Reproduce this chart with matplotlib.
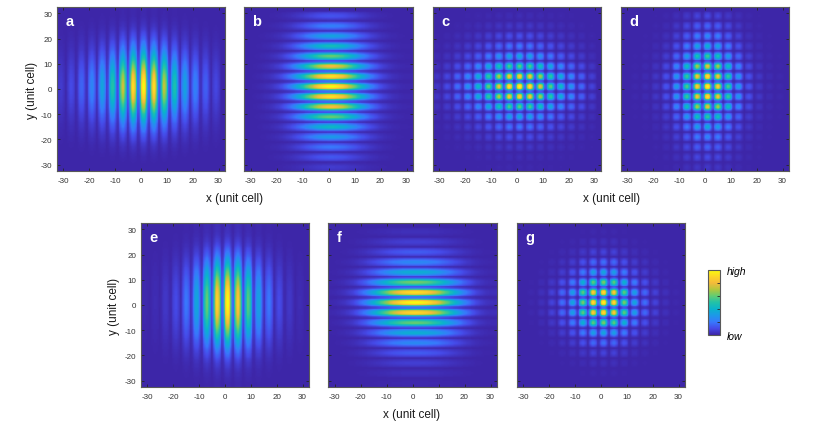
import numpy as np
import matplotlib
matplotlib.use("Agg")
import matplotlib.pyplot as plt
from matplotlib.colors import LinearSegmentedColormap, Normalize
from matplotlib.cm import ScalarMappable

plt.rcParams['font.family'] = ['Liberation Sans', 'DejaVu Sans']
plt.rcParams['axes.unicode_minus'] = False

# lattice sites (unit cell) where fringes / spots sit, same for x and y
sites = np.array([-31, -27, -23, -19, -15, -11, -7, -3, 1, 5, 9, 13, 17, 21, 25, 29])
ticks = [-30, -20, -10, 0, 10, 20, 30]

# peak intensity per site (x profile, y profile)
a_x = [0.06, 0.1, 0.16, 0.24, 0.34, 0.5, 0.74, 0.92, 1.0, 0.92, 0.72, 0.48, 0.33, 0.23, 0.15, 0.09]
a_y = [0.0, 0.01, 0.04, 0.12, 0.25, 0.44, 0.68, 0.9, 1.0, 0.9, 0.68, 0.44, 0.25, 0.12, 0.04, 0.01]
b_x = [0.0, 0.01, 0.03, 0.08, 0.2, 0.4, 0.66, 0.9, 1.0, 0.9, 0.66, 0.4, 0.2, 0.08, 0.03, 0.01]
b_y = [0.06, 0.13, 0.2, 0.3, 0.42, 0.6, 0.82, 0.93, 1.0, 0.93, 0.8, 0.6, 0.45, 0.33, 0.22, 0.12]
c_x = [0.05, 0.1, 0.18, 0.28, 0.42, 0.6, 0.8, 0.95, 1.0, 0.95, 0.78, 0.58, 0.42, 0.28, 0.17, 0.08]
c_y = [0.01, 0.02, 0.05, 0.11, 0.2, 0.34, 0.58, 0.87, 1.0, 0.87, 0.58, 0.34, 0.2, 0.11, 0.05, 0.02]
d_x = [0.0, 0.01, 0.02, 0.05, 0.12, 0.3, 0.56, 0.87, 1.0, 0.87, 0.56, 0.3, 0.12, 0.05, 0.02, 0.01]
d_y = [0.05, 0.1, 0.16, 0.24, 0.36, 0.52, 0.78, 0.94, 1.0, 0.94, 0.78, 0.54, 0.38, 0.25, 0.16, 0.09]
e_x = [0.01, 0.02, 0.05, 0.1, 0.2, 0.35, 0.6, 0.88, 1.0, 0.85, 0.58, 0.33, 0.2, 0.1, 0.05, 0.02]
e_y = [0.01, 0.03, 0.08, 0.2, 0.38, 0.6, 0.8, 0.95, 1.0, 0.95, 0.8, 0.6, 0.38, 0.2, 0.08, 0.03]
f_x = [0.01, 0.03, 0.08, 0.2, 0.38, 0.6, 0.82, 0.95, 1.0, 0.95, 0.82, 0.6, 0.38, 0.2, 0.08, 0.03]
f_y = [0.01, 0.03, 0.07, 0.14, 0.25, 0.38, 0.6, 0.9, 1.0, 0.92, 0.62, 0.38, 0.25, 0.14, 0.07, 0.03]
g_x = [0.0, 0.01, 0.03, 0.08, 0.18, 0.34, 0.62, 0.93, 1.0, 0.93, 0.62, 0.34, 0.18, 0.08, 0.03, 0.01]
g_y = [0.0, 0.01, 0.03, 0.08, 0.18, 0.34, 0.62, 0.93, 1.0, 0.93, 0.62, 0.34, 0.18, 0.08, 0.03, 0.01]

# parula-like colormap
parula = LinearSegmentedColormap.from_list('parula', [
    (0.00, (0.242, 0.150, 0.660)),
    (0.10, (0.272, 0.290, 0.910)),
    (0.20, (0.220, 0.470, 0.990)),
    (0.30, (0.110, 0.600, 0.910)),
    (0.40, (0.040, 0.700, 0.800)),
    (0.50, (0.130, 0.760, 0.660)),
    (0.60, (0.380, 0.800, 0.450)),
    (0.70, (0.690, 0.780, 0.240)),
    (0.80, (0.960, 0.730, 0.230)),
    (0.90, (0.990, 0.840, 0.150)),
    (1.00, (0.976, 0.983, 0.054)),
])

# half unit cell pixels
cells = np.arange(-32.25, 32.5, 0.5)


def profile(amps, fringe):
    amps = np.asarray(amps)
    dd = cells[:, None] - sites[None, :]
    if fringe:
        w = np.where(np.abs(dd) < 2, np.cos(np.pi * dd / 4), 0.0)
        return w @ amps
    w = np.exp(-0.5 * (dd / 2.0) ** 2)
    return (w @ amps) / w.sum(axis=1)


W, H = 814, 431
fig = plt.figure(figsize=(W / 100, H / 100), dpi=100)


def rect(l, t, r, b):
    return [l / W, 1 - b / H, (r - l) / W, (b - t) / H]


panels = [
    ('a', a_x, True, a_y, False, rect(57, 8, 225, 172), True),
    ('b', b_x, False, b_y, True, rect(244, 8, 413, 172), False),
    ('c', c_x, True, c_y, True, rect(433, 8, 601, 172), False),
    ('d', d_x, True, d_y, True, rect(621, 8, 789, 172), False),
    ('e', e_x, True, e_y, False, rect(141, 224, 309, 388), True),
    ('f', f_x, False, f_y, True, rect(328, 224, 497, 388), False),
    ('g', g_x, True, g_y, True, rect(517, 224, 685, 388), False),
]

frame = '0.35'
for letter, px, fx, py, fy, r, ylab in panels:
    ax = fig.add_axes(r)
    z = np.outer(profile(py, fy), profile(px, fx))
    ax.imshow(z, cmap=parula, origin='lower', extent=[-32.5, 32.5, -32.5, 32.5],
              aspect='auto', vmin=0, vmax=z.max())
    ax.set_xlim(-32.5, 32.5)
    ax.set_ylim(-32.5, 32.5)
    ax.set_xticks(ticks)
    ax.set_yticks(ticks)
    ax.tick_params(direction='in', length=2.5, width=0.6, color='0.15',
                   labelsize=5.8, labelcolor='0.2', top=True, right=True)
    ax.tick_params(axis='x', pad=4.5)
    ax.tick_params(axis='y', pad=3.5)
    if not ylab:
        ax.set_yticklabels([])
    for s in ax.spines.values():
        s.set_color(frame)
        s.set_linewidth(0.8)
    ax.text(0.05, 0.89, letter, transform=ax.transAxes, color='white',
            fontsize=10.5, fontweight='bold', ha='left', va='baseline')

lab = dict(fontsize=8.5, color='0.1', ha='center', va='center')
fig.text(235 / W, 1 - 199 / H, 'x (unit cell)', **lab)
fig.text(612 / W, 1 - 199 / H, 'x (unit cell)', **lab)
fig.text(412 / W, 1 - 415 / H, 'x (unit cell)', **lab)
fig.text(32 / W, 1 - 90 / H, 'y (unit cell)', rotation=90, **lab)
fig.text(114 / W, 1 - 306 / H, 'y (unit cell)', rotation=90, **lab)

cax = fig.add_axes(rect(708, 271, 720, 336))
cb = fig.colorbar(ScalarMappable(norm=Normalize(0, 1), cmap=parula), cax=cax)
cb.set_ticks([0, 0.2, 0.4, 0.6, 0.8, 1.0])
cb.set_ticklabels(['low', '', '', '', '', 'high'])
cb.ax.tick_params(direction='in', length=2, width=0.6, color='0.15', labelsize=7.5, pad=5)
for t in cb.ax.get_yticklabels():
    t.set_fontstyle('italic')
cb.outline.set_edgecolor(frame)
cb.outline.set_linewidth(0.8)

fig.savefig('out.png', dpi=100)
